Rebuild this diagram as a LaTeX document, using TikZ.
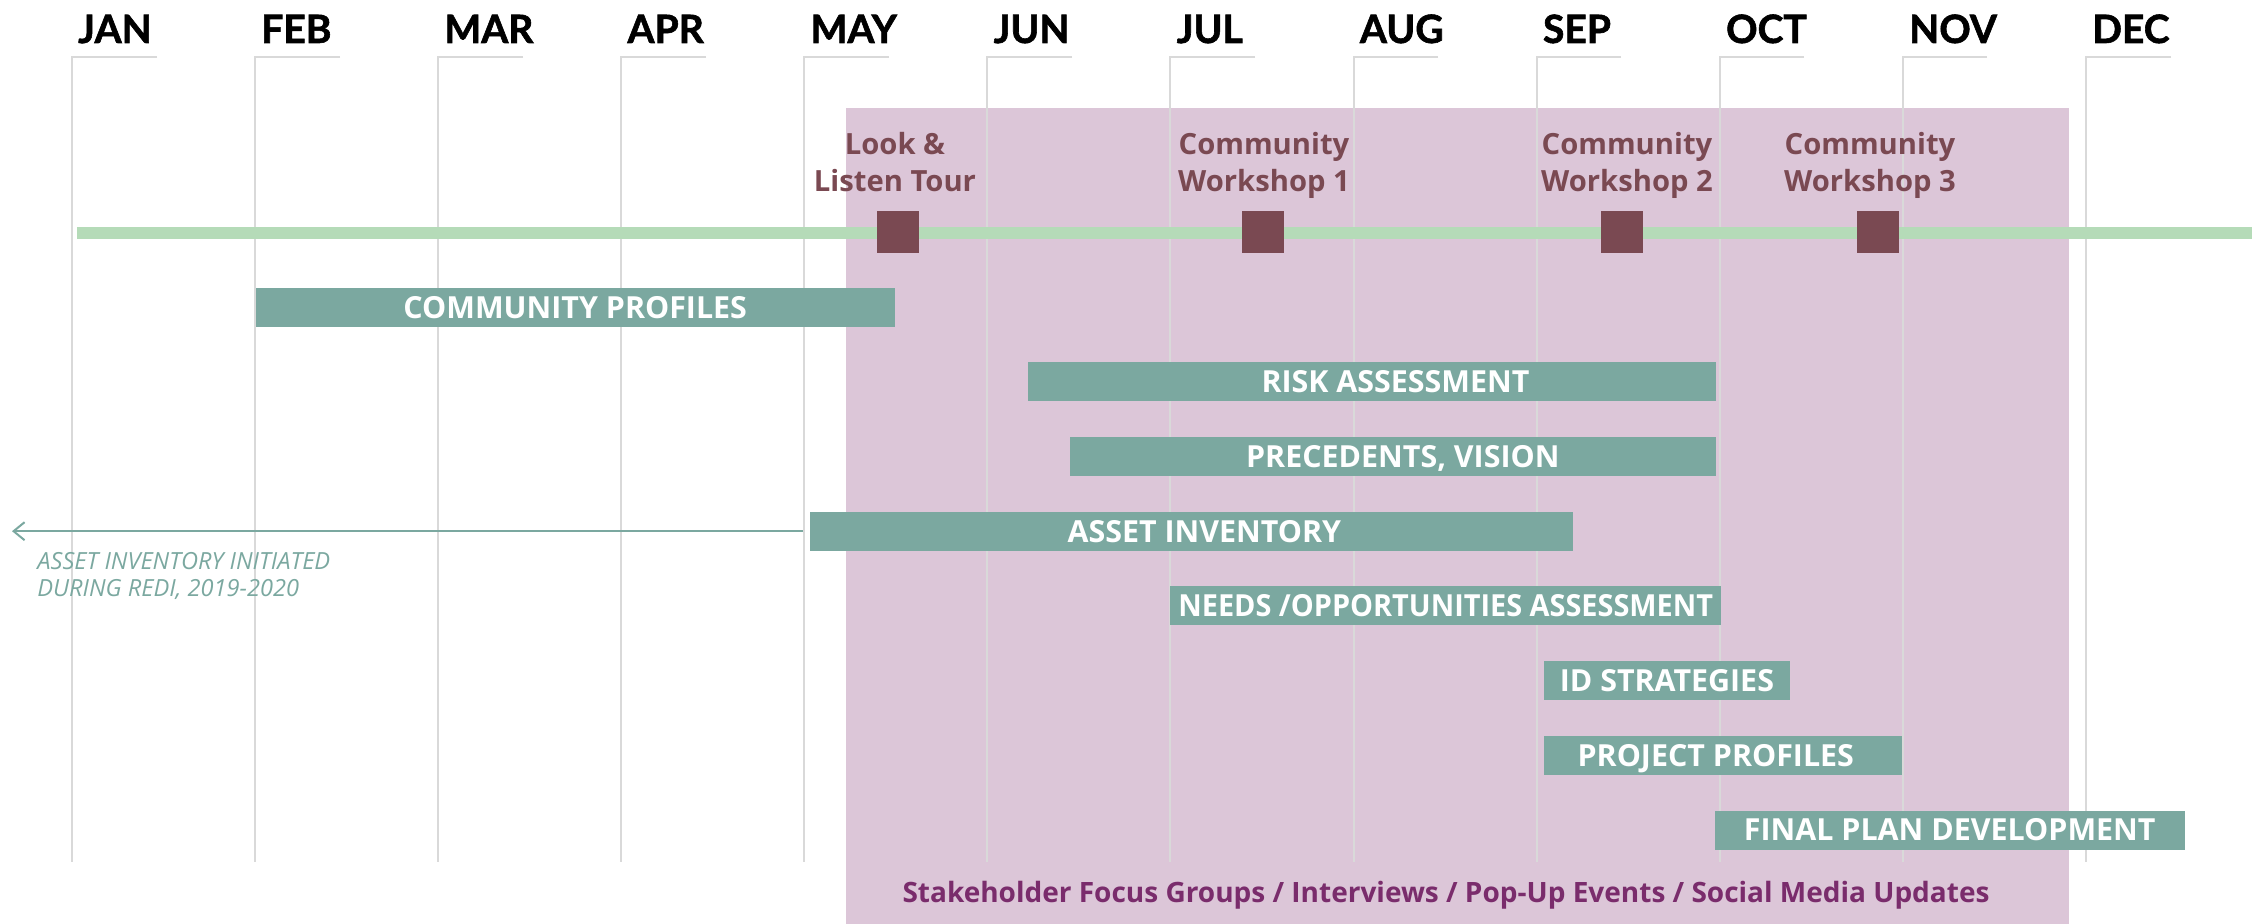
\documentclass[tikz,border=0pt]{standalone}
\usepackage{fontspec}
\setmainfont{Open Sans}
\newfontfamily\monthfont{Lato}[BoldFeatures={FakeBold=1.5}]
\usetikzlibrary{arrows.meta}

\definecolor{stakebg}{RGB}{220,198,216}
\definecolor{gridgray}{RGB}{217,217,217}
\definecolor{timegreen}{RGB}{181,219,184}
\definecolor{msred}{RGB}{122,73,82}
\definecolor{barteal}{RGB}{123,168,160}
\definecolor{stakepurple}{RGB}{122,44,108}

\begin{document}
\begin{tikzpicture}[x=0.5pt,y=0.5pt,yscale=-1,xscale=1,
  gridline/.style={draw=gridgray, line width=1pt},
  monthlbl/.style={anchor=base west, inner sep=0pt, font=\monthfont\bfseries\fontsize{19.5}{22}\selectfont},
  milestone/.style={fill=msred, minimum size=21pt, inner sep=0pt},
  mslabel/.style={anchor=base, align=center, inner sep=0pt, text=msred, font=\bfseries\fontsize{14.6}{18.5}\selectfont},
  taskbar/.style={fill=barteal, text=white, minimum height=19.5pt, inner sep=0pt, text height=10.8pt, text depth=0pt, font=\bfseries\fontsize{15.2}{18}\selectfont}]
\path[use as bounding box] (0,0) rectangle (2252,924);

%Shape: Rectangle [stakeholder engagement period]
\fill[stakebg] (846,108) rectangle (2069,924);

%Straight Lines [month grid]
\draw[gridline] (157,57) -- (71.8,57) -- (71.8,862);
\draw[gridline] (340,57) -- (254.9,57) -- (254.9,862);
\draw[gridline] (523,57) -- (438,57) -- (438,862);
\draw[gridline] (706,57) -- (621.1,57) -- (621.1,862);
\draw[gridline] (889,57) -- (804.2,57) -- (804.2,862);
\draw[gridline] (1072,57) -- (987.3,57) -- (987.3,862);
\draw[gridline] (1255,57) -- (1170.4,57) -- (1170.4,862);
\draw[gridline] (1438,57) -- (1353.5,57) -- (1353.5,862);
\draw[gridline] (1621,57) -- (1536.6,57) -- (1536.6,862);
\draw[gridline] (1804,57) -- (1719.7,57) -- (1719.7,862);
\draw[gridline] (1987,57) -- (1902.8,57) -- (1902.8,862);
\draw[gridline] (2171,57) -- (2085.9,57) -- (2085.9,862);

% Text Node [months]
\node[monthlbl] (jan) at (77.8,43) {JAN};
\node[monthlbl] (feb) at (260.9,43) {FEB};
\node[monthlbl] (mar) at (444,43) {MAR};
\node[monthlbl] (apr) at (627.1,43) {APR};
\node[monthlbl] (may) at (810.2,43) {MAY};
\node[monthlbl] (jun) at (993.3,43) {JUN};
\node[monthlbl] (jul) at (1176.4,43) {JUL};
\node[monthlbl] (aug) at (1359.5,43) {AUG};
\node[monthlbl] (sep) at (1542.6,43) {SEP};
\node[monthlbl] (oct) at (1725.7,43) {OCT};
\node[monthlbl] (nov) at (1908.8,43) {NOV};
\node[monthlbl] (dec) at (2091.9,43) {DEC};

%Straight Lines [time line]
\draw[timegreen, line width=6pt] (77,233.5) -- (2252,233.5);

%Shape: Square [milestones]
\node[milestone] (look) at (898,232) {};
\node[milestone] (cwone) at (1263,232) {};
\node[milestone] (cwtwo) at (1622,232) {};
\node[milestone] (cwthree) at (1877.5,232) {};

% Text Node [milestone labels]
\node[mslabel] (looklbl) at (895,192) {Look \&\\Listen Tour};
\node[mslabel] (cwonelbl) at (1264,192) {Community\\Workshop 1};
\node[mslabel] (cwtwolbl) at (1627,192) {Community\\Workshop 2};
\node[mslabel] (cwthreelbl) at (1870,192) {Community\\Workshop 3};

%Shape: Rectangle [task bars]
\node[taskbar, minimum width=319.6pt] (profiles) at (575.2,307.3) {COMMUNITY PROFILES};
\node[taskbar, minimum width=344pt] (risk) at (1371.5,382) {\hspace*{24pt}RISK ASSESSMENT};
\node[taskbar, minimum width=322.8pt] (precedents) at (1392.8,456.5) {\hspace*{10pt}PRECEDENTS, VISION};
\node[taskbar, minimum width=381.3pt] (asset) at (1191.3,531.2) {\hspace*{13pt}ASSET INVENTORY};
\node[taskbar, minimum width=275.4pt] (needs) at (1445.7,605.7) {\scalebox{0.95}[1]{NEEDS /OPPORTUNITIES ASSESSMENT}};
\node[taskbar, minimum width=122.9pt] (idstrat) at (1666.9,680.5) {ID STRATEGIES};
\node[taskbar, minimum width=178.8pt] (projprof) at (1722.8,755.3) {PROJECT PROFILES\hspace*{7pt}};
\node[taskbar, minimum width=235pt] (finalplan) at (1949.7,830) {FINAL PLAN DEVELOPMENT};

%Straight Lines [earlier asset inventory]
\coordinate (assetstart) at (12,531.2);
\draw[barteal, line width=1pt, shorten <=3.5pt, -{Straight Barb[length=5.5pt,width=9pt]}] (asset.west) -- (assetstart);

% Text Node
\node[anchor=base west, align=left, inner sep=0pt, text=barteal, font=\itshape\fontsize{11.8}{13.4}\selectfont] (assetnote) at (37,596) {ASSET INVENTORY INITIATED\\DURING REDI, 2019-2020};

% Text Node
\node[anchor=base, inner sep=0pt, text=stakepurple, font=\bfseries\fontsize{14}{16}\selectfont] (stakeholders) at (1446,902) {Stakeholder Focus Groups / Interviews / Pop-Up Events / Social Media Updates};

\end{tikzpicture}
\end{document}
